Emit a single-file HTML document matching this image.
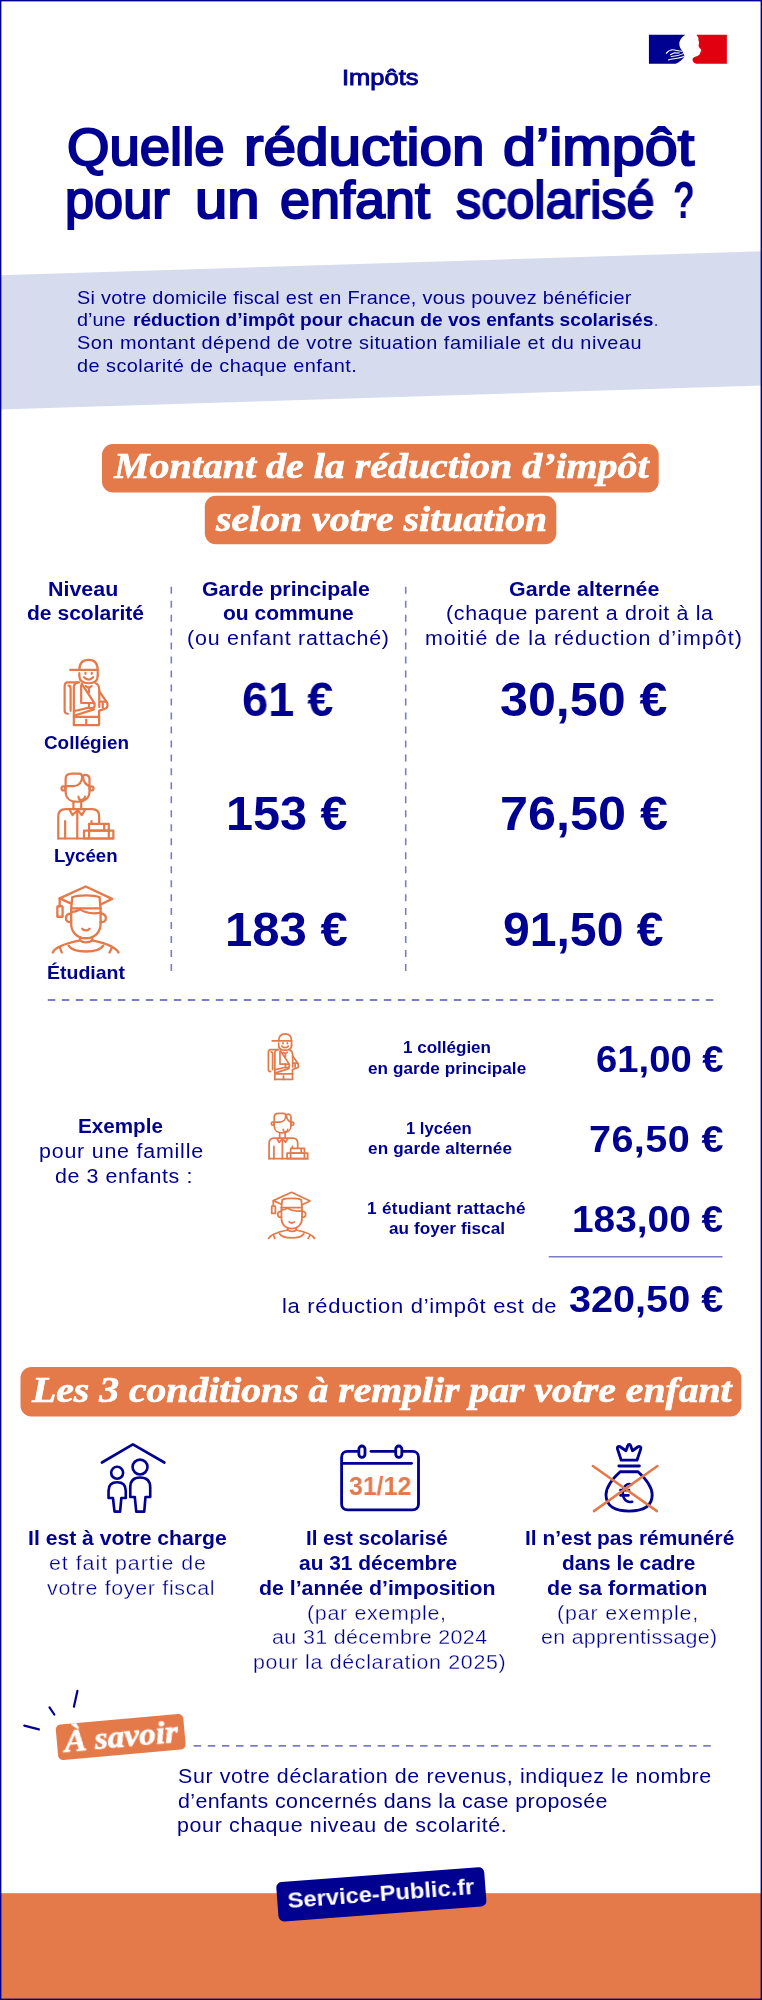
<!DOCTYPE html>
<html lang="fr">
<head>
<meta charset="utf-8">
<title>Quelle réduction d’impôt pour un enfant scolarisé ?</title>
<style>
html,body{margin:0;padding:0;background:#fff}
#pg{position:relative;width:762px;height:2000px;overflow:hidden;background:#fff;font-family:"Liberation Sans",sans-serif;color:#000091}
#gfx{position:absolute;left:0;top:0}
.t{will-change:transform;position:absolute;white-space:nowrap;line-height:1;transform-origin:0 0;font-weight:400;color:#000091}
.b{font-weight:700}
.s{font-family:"Liberation Serif",serif;font-style:italic;-webkit-text-stroke:0.7px #fff}
.tt{-webkit-text-stroke:2px #000091}
.tm{-webkit-text-stroke:0.9px #000091}
.tl{-webkit-text-stroke:0.3px #fff}
.rot{will-change:transform;position:absolute;white-space:nowrap;line-height:1;color:#fff;font-weight:700;text-align:center}
</style>
</head>
<body>
<div id="pg">
<svg id="gfx" width="762" height="2000" viewBox="0 0 762 2000">
<defs>
<!-- collegien icon, drawn in zoom coordinates -->
<symbol id="i-col" overflow="visible">
<g fill="none" stroke="#E4794A" stroke-linecap="round" stroke-linejoin="round">
<path d="M265 195C265 120 300 85 365 85C430 85 465 120 465 195L465 262"/>
<path d="M165 195L465 195"/>
<path d="M265 230L265 262C265 318 310 340 365 340C420 340 465 318 465 262"/>
<path d="M332 226L332 238M400 226L400 238"/>
<path d="M315 275Q365 325 415 275"/>
<path d="M250 330L140 330C112 330 105 345 105 372L105 640C105 664 118 672 140 672"/>
<path d="M147 365C165 365 170 380 170 400L170 640"/>
<path d="M205 795L205 385C205 350 225 332 262 330"/>
<path d="M205 795L480 795L480 640"/>
<path d="M440 340C470 350 482 372 482 410L482 600"/>
<path d="M335 372L368 392L398 372M370 400L370 440"/>
<path d="M290 345L430 560"/>
<path d="M285 362L285 555L370 555"/>
<path d="M370 555L410 555C428 555 432 565 432 580C432 600 425 610 405 612L370 612Z"/>
<path d="M215 642L370 605M215 692L425 625"/>
<path d="M205 707L480 707M340 737L340 795"/>
<path d="M482 430L560 540"/>
<path d="M490 540L545 540C565 540 572 555 572 578C572 602 560 616 540 620L490 636"/>
<path d="M520 556L520 606"/>
</g>
</symbol>
<symbol id="i-lyc" overflow="visible">
<g fill="none" stroke="#E4794A" stroke-linecap="round" stroke-linejoin="round">
<path d="M170 230L170 150C170 112 200 95 240 95L310 95C340 95 350 110 350 130C350 190 310 230 260 230Z"/>
<path d="M360 118C380 100 430 105 430 150L430 230C400 220 365 190 360 130Z"/>
<circle cx="147" cy="255" r="22"/>
<circle cx="452" cy="255" r="22"/>
<path d="M170 235L170 290C170 360 222 400 297 400C372 400 430 360 430 290L430 235"/>
<path d="M310 345C310 375 330 385 350 380C370 375 380 362 380 345"/>
<path d="M255 405L255 480M340 405L340 480"/>
<path d="M90 800L90 560C90 510 120 480 170 480L460 480C510 480 535 510 535 560L535 632"/>
<path d="M90 800L690 800"/>
<path d="M215 490L245 545L290 500M310 500L345 545L380 490"/>
<path d="M297 495L297 800M165 610L165 800M452 610L452 635"/>
<path d="M425 640L640 640L640 715L425 715ZM590 640L590 715"/>
<path d="M370 715L690 715L690 800L370 800ZM425 715L425 800M640 715L640 800"/>
</g>
</symbol>
<symbol id="i-etu" overflow="visible">
<g fill="none" stroke="#E4794A" stroke-linecap="round" stroke-linejoin="round">
<path d="M240 225L130 175L378 62L630 180L515 235"/>
<path d="M240 270L250 165C300 140 460 140 510 165L520 270Z"/>
<path d="M130 175L130 250"/>
<path d="M108 258C108 250 112 250 118 250L148 250C156 250 158 252 158 258L158 350L108 350Z"/>
<path d="M240 305C290 300 310 290 325 275M325 280C370 310 450 325 525 310"/>
<path d="M240 270L240 420C240 500 300 555 378 555C460 555 520 500 520 420L520 270"/>
<path d="M240 320C200 320 190 345 190 365C190 390 210 405 240 400M520 320C560 320 570 345 570 365C570 390 550 405 520 400"/>
<path d="M345 465Q380 495 415 465"/>
<path d="M325 545L325 575C350 600 410 600 440 575L440 545"/>
<path d="M65 690C90 630 200 600 325 575M440 575C560 600 660 630 690 690"/>
<path d="M215 625C260 700 500 700 545 625"/>
<path d="M130 640L150 690M630 640L605 690"/>
</g>
</symbol>
</defs>

<!-- intro band -->
<polygon points="0,275.3 762,251.3 762,385.4 0,409.6" fill="#D6DCEE"/>

<!-- flag -->
<g transform="translate(640,25) scale(0.13123)">
<path d="M68 75L345 75C318 92 298 118 300 150C302 172 312 184 322 198L340 238C322 268 300 282 272 295L68 295Z" fill="#000091"/>
<g fill="none" stroke="#fff" stroke-width="8" stroke-linecap="round">
<path d="M200 216C215 198 240 186 262 190C280 193 296 200 318 200"/>
<path d="M232 226L262 212L300 214"/>
<path d="M238 240C262 240 300 232 330 218"/>
<path d="M216 266C250 256 300 256 336 238"/>
</g>
<path d="M430 75L662 75L662 295L430 295C408 290 396 272 402 255C410 240 440 238 452 226C462 214 458 204 468 192C462 180 448 170 446 158C450 140 452 128 444 112C452 104 440 90 430 75Z" fill="#E1000F"/>
</g>

<!-- section pills -->
<rect x="102" y="444" width="556.7" height="48.4" rx="11" fill="#E4794A"/>
<rect x="204.8" y="495.7" width="351.5" height="48.6" rx="11" fill="#E4794A"/>
<rect x="20.5" y="1367.1" width="720.8" height="49.3" rx="11" fill="#E4794A"/>

<!-- dashed lines -->
<g stroke="#7C7CC6" stroke-width="1.6" fill="none">
<path d="M171.3 586.7V971.4" stroke-dasharray="7 6.974"/>
<path d="M405.7 586.7V971.4" stroke-dasharray="7 6.974"/>
<path d="M47.8 1000H713.5" stroke-dasharray="7.5 6.5" stroke-width="1.8"/>
<path d="M193.6 1745.8H711" stroke-dasharray="7.5 6.657" stroke-width="1.8"/>
<path d="M548.7 1256.7H722.5" stroke-width="1.5"/>
</g>

<!-- level icons (large) -->
<use href="#i-col" stroke-width="24" transform="translate(55,652) scale(0.09186)"/>
<use href="#i-lyc" stroke-width="24" transform="translate(50,765) scale(0.09186)"/>
<use href="#i-etu" stroke-width="22" transform="translate(46,880) scale(0.10499)"/>
<!-- level icons (small) -->
<g transform="translate(268.1,1033.2) scale(0.70) translate(-64.2,-658.9)"><use href="#i-col" stroke-width="27" transform="translate(55,652) scale(0.09186)"/></g>
<g transform="translate(268.4,1112.7) scale(0.70) translate(-57.3,-772.8)"><use href="#i-lyc" stroke-width="27" transform="translate(50,765) scale(0.09186)"/></g>
<g transform="translate(268.2,1191.8) scale(0.70) translate(-52.3,-885.8)"><use href="#i-etu" stroke-width="24" transform="translate(46,880) scale(0.10499)"/></g>

<!-- house + people -->
<g transform="translate(93,1435) scale(0.10499)" fill="none" stroke="#000091" stroke-width="25" stroke-linecap="round" stroke-linejoin="round">
<path d="M85 262L380 90L680 262"/>
<circle cx="230" cy="360" r="57"/>
<path d="M148 600L148 530C148 470 185 450 230 450C275 450 312 470 312 530L312 600L270 600L258 730L205 730L190 600Z"/>
<circle cx="448" cy="305" r="71"/>
<path d="M355 590L355 500C355 430 395 405 448 405C500 405 545 430 545 500L545 590L500 590L488 730L412 730L398 590Z"/>
</g>

<!-- calendar -->
<g transform="translate(335,1435) scale(0.11811)" fill="none" stroke="#000091" stroke-width="24" stroke-linecap="round" stroke-linejoin="round">
<path d="M190 138L106 138C76 138 56 158 56 188L56 584C56 614 76 634 106 634L657 634C687 634 707 614 707 584L707 188C707 158 687 138 657 138L577 138"/>
<path d="M305 138L503 138"/>
<rect x="202" y="93" width="52" height="96" rx="26"/>
<rect x="514" y="93" width="52" height="96" rx="26"/>
<path d="M62 240L648 240"/>
</g>

<!-- money bag -->
<g transform="translate(585,1435) scale(0.10499)" fill="none" stroke="#000091" stroke-width="27" stroke-linecap="round" stroke-linejoin="round">
<path d="M345 240L308 128C305 110 325 105 335 112L390 150L408 100C412 85 430 85 434 100L452 150L505 112C518 104 538 112 532 130L495 240Z"/>
<path d="M322 295L518 295"/>
<path d="M335 350L505 350C560 400 640 480 640 570C640 680 550 725 420 725C290 725 200 680 200 570C200 480 280 400 335 350Z"/>
<path d="M442 472C400 455 360 490 360 550C360 612 400 650 450 635M337 525L420 525M337 575L415 575" stroke-width="24"/>
<path d="M75 295L685 725M690 295L85 725" stroke="#E4794A" stroke-width="24"/>
</g>

<!-- a savoir: sparks + pill -->
<g stroke="#000091" stroke-width="2.2" stroke-linecap="round" fill="none">
<path d="M24.3 1725.6L38.9 1729.4M49.5 1707.4L54.3 1714.5M77.4 1690.9L73.9 1706.7"/>
</g>
<g transform="translate(120.7,1737) rotate(-5.08)"><rect x="-64" y="-17.8" width="128" height="35.6" rx="5" fill="#E4794A"/></g>

<!-- bottom band + badge -->
<rect x="0" y="1893.2" width="762" height="108" fill="#E4794A"/>
<g transform="translate(381.3,1894.3) rotate(-4.33)"><rect x="-104.2" y="-19.7" width="208.5" height="39.4" rx="5.5" fill="#000091"/></g>
</svg>

<header class="entete">
<div class="t tm" style="left:342.09px;top:66.55px;font-size:22.5px;transform:scaleX(1.1322)">Impôts</div>
<div class="t tt" style="left:67.36px;top:122.03px;font-size:51px;transform:scaleX(1.0690)">Quelle</div>
<div class="t tt" style="left:243.86px;top:122.03px;font-size:51px;transform:scaleX(1.1470)">réduction</div>
<div class="t tt" style="left:503.47px;top:122.03px;font-size:51px;transform:scaleX(1.1625)">d’impôt</div>
<div class="t tt" style="left:64.52px;top:175.33px;font-size:51px;transform:scaleX(1.0253)">pour</div>
<div class="t tt" style="left:194.89px;top:175.33px;font-size:51px;transform:scaleX(1.1370)">un</div>
<div class="t tt" style="left:280.28px;top:175.33px;font-size:51px;transform:scaleX(1.0578)">enfant</div>
<div class="t tt" style="left:456.01px;top:175.33px;font-size:51px;transform:scaleX(0.9871)">scolarisé</div>
<div class="t b" style="left:673.21px;top:175.33px;font-size:51px;transform:scaleX(0.6963)">?</div>
</header>
<section class="intro">
<div class="t" style="left:76.80px;top:288.86px;font-size:18.6px;transform:scaleX(1.0700);letter-spacing:0.243px">Si votre domicile fiscal est en France, vous pouvez bénéficier</div>
<div class="t" style="left:76.80px;top:311.46px;font-size:18.6px;transform:scaleX(1.0675)">d’une</div>
<div class="t b" style="left:132.97px;top:311.46px;font-size:18.6px;transform:scaleX(1.0298)">réduction d’impôt pour chacun de vos enfants scolarisés</div>
<div class="t" style="left:654.10px;top:311.46px;font-size:18.6px;transform:scaleX(0.8000)">.</div>
<div class="t" style="left:76.80px;top:334.06px;font-size:18.6px;transform:scaleX(1.0700);letter-spacing:0.481px">Son montant dépend de votre situation familiale et du niveau</div>
<div class="t" style="left:76.80px;top:356.66px;font-size:18.6px;transform:scaleX(1.0700);letter-spacing:0.428px">de scolarité de chaque enfant.</div>
</section>
<section class="montants">
<div class="t b s" style="left:113.76px;top:448.45px;font-size:36px;transform:scaleX(1.1090);color:#fff">Montant de la réduction d’impôt</div>
<div class="t b s" style="left:216.15px;top:500.65px;font-size:36px;transform:scaleX(1.1036);color:#fff">selon votre situation</div>
<div class="t b" style="left:48.23px;top:578.67px;font-size:20px;transform:scaleX(1.0700);letter-spacing:0.018px">Niveau</div>
<div class="t b" style="left:26.80px;top:603.47px;font-size:20px;transform:scaleX(1.0528)">de scolarité</div>
<div class="t b" style="left:201.80px;top:578.67px;font-size:20px;transform:scaleX(1.0634)">Garde principale</div>
<div class="t b" style="left:223.10px;top:603.47px;font-size:20px;transform:scaleX(1.0504)">ou commune</div>
<div class="t" style="left:186.93px;top:628.47px;font-size:20px;transform:scaleX(1.0700);letter-spacing:0.748px">(ou enfant rattaché)</div>
<div class="t b" style="left:508.60px;top:578.67px;font-size:20px;transform:scaleX(1.0700);letter-spacing:0.040px">Garde alternée</div>
<div class="t" style="left:446.13px;top:603.47px;font-size:20px;transform:scaleX(1.0700);letter-spacing:0.618px">(chaque parent a droit à la</div>
<div class="t" style="left:424.93px;top:628.47px;font-size:20px;transform:scaleX(1.0700);letter-spacing:0.975px">moitié de la réduction d’impôt)</div>
<div class="t b" style="left:242.42px;top:675.97px;font-size:48px;transform:scaleX(0.9779)">61 €</div>
<div class="t b" style="left:226.06px;top:789.87px;font-size:48px;transform:scaleX(1.0118)">153 €</div>
<div class="t b" style="left:225.43px;top:906.37px;font-size:48px;transform:scaleX(1.0221)">183 €</div>
<div class="t b" style="left:500.15px;top:675.97px;font-size:48px;transform:scaleX(1.0457)">30,50 €</div>
<div class="t b" style="left:499.70px;top:789.87px;font-size:48px;transform:scaleX(1.0486)">76,50 €</div>
<div class="t b" style="left:503.10px;top:906.37px;font-size:48px;transform:scaleX(1.0022)">91,50 €</div>
<div class="t b" style="left:43.50px;top:734.34px;font-size:18.5px;transform:scaleX(1.0198)">Collégien</div>
<div class="t b" style="left:53.89px;top:846.54px;font-size:18.5px;transform:scaleX(1.0070)">Lycéen</div>
<div class="t b" style="left:46.75px;top:963.64px;font-size:18.5px;transform:scaleX(1.0531)">Étudiant</div>
</section>
<section class="exemple">
<div class="t b" style="left:78.17px;top:1116.47px;font-size:20px;transform:scaleX(1.0315)">Exemple</div>
<div class="t" style="left:38.53px;top:1141.07px;font-size:20px;transform:scaleX(1.0700);letter-spacing:0.737px">pour une famille</div>
<div class="t" style="left:55.20px;top:1166.07px;font-size:20px;transform:scaleX(1.0700);letter-spacing:0.552px">de 3 enfants :</div>
<div class="t b" style="left:402.74px;top:1040.46px;font-size:16px;transform:scaleX(1.0640)">1 collégien</div>
<div class="t b" style="left:368.10px;top:1061.46px;font-size:16px;transform:scaleX(1.0700);letter-spacing:0.063px">en garde principale</div>
<div class="t b" style="left:406.16px;top:1121.06px;font-size:16px;transform:scaleX(1.0394)">1 lycéen</div>
<div class="t b" style="left:368.10px;top:1141.46px;font-size:16px;transform:scaleX(1.0700);letter-spacing:0.129px">en garde alternée</div>
<div class="t b" style="left:367.03px;top:1200.86px;font-size:16px;transform:scaleX(1.0700);letter-spacing:0.324px">1 étudiant rattaché</div>
<div class="t b" style="left:389.10px;top:1221.26px;font-size:16px;transform:scaleX(1.0700);letter-spacing:0.056px">au foyer fiscal</div>
<div class="t b" style="left:595.57px;top:1041.18px;font-size:37px;transform:scaleX(1.0331)">61,00 €</div>
<div class="t b" style="left:588.63px;top:1121.08px;font-size:37px;transform:scaleX(1.0700);letter-spacing:0.374px">76,50 €</div>
<div class="t b" style="left:572.00px;top:1201.18px;font-size:37px;transform:scaleX(1.0492)">183,00 €</div>
<div class="t b" style="left:568.90px;top:1281.18px;font-size:37px;transform:scaleX(1.0700);letter-spacing:0.015px">320,50 €</div>
<div class="t" style="left:282.03px;top:1296.05px;font-size:20.5px;transform:scaleX(1.0700);letter-spacing:0.663px">la réduction d’impôt est de</div>
</section>
<section class="conditions">
<div class="t b s" style="left:31.78px;top:1372.99px;font-size:35px;transform:scaleX(1.1331);color:#fff">Les 3 conditions à remplir par votre enfant</div>
<div class="t b" style="left:27.94px;top:1527.87px;font-size:20px;transform:scaleX(1.0576)">Il est à votre charge</div>
<div class="t tl" style="left:49.25px;top:1552.87px;font-size:20px;transform:scaleX(1.0700);letter-spacing:0.898px">et fait partie de</div>
<div class="t tl" style="left:46.55px;top:1577.77px;font-size:20px;transform:scaleX(1.0700);letter-spacing:0.642px">votre foyer fiscal</div>
<div class="t b" style="left:306.17px;top:1527.87px;font-size:20px;transform:scaleX(1.0268)">Il est scolarisé</div>
<div class="t b" style="left:298.80px;top:1552.87px;font-size:20px;transform:scaleX(1.0459)">au 31 décembre</div>
<div class="t b" style="left:259.10px;top:1577.77px;font-size:20px;transform:scaleX(1.0641)">de l’année d’imposition</div>
<div class="t tl" style="left:306.78px;top:1602.67px;font-size:20px;transform:scaleX(1.0700);letter-spacing:0.631px">(par exemple,</div>
<div class="t tl" style="left:272.15px;top:1627.47px;font-size:20px;transform:scaleX(1.0700);letter-spacing:0.354px">au 31 décembre 2024</div>
<div class="t tl" style="left:253.48px;top:1652.37px;font-size:20px;transform:scaleX(1.0700);letter-spacing:0.620px">pour la déclaration 2025)</div>
<div class="t b" style="left:524.55px;top:1527.87px;font-size:20px;transform:scaleX(1.0460)">Il n’est pas rémunéré</div>
<div class="t b" style="left:562.10px;top:1552.87px;font-size:20px;transform:scaleX(1.0421)">dans le cadre</div>
<div class="t b" style="left:546.70px;top:1577.77px;font-size:20px;transform:scaleX(1.0700);letter-spacing:0.064px">de sa formation</div>
<div class="t tl" style="left:556.78px;top:1602.67px;font-size:20px;transform:scaleX(1.0700);letter-spacing:0.810px">(par exemple,</div>
<div class="t tl" style="left:541.45px;top:1627.47px;font-size:20px;transform:scaleX(1.0700);letter-spacing:0.280px">en apprentissage)</div>
</section>
<aside class="a-savoir">
<div class="t" style="left:178.00px;top:1765.97px;font-size:20px;transform:scaleX(1.0700);letter-spacing:0.570px">Sur votre déclaration de revenus, indiquez le nombre</div>
<div class="t" style="left:178.00px;top:1790.57px;font-size:20px;transform:scaleX(1.0700);letter-spacing:0.388px">d’enfants concernés dans la case proposée</div>
<div class="t" style="left:176.93px;top:1814.87px;font-size:20px;transform:scaleX(1.0700);letter-spacing:0.616px">pour chaque niveau de scolarité.</div>
</aside>

<div class="rot s" style="left:20.7px;top:1721.4px;width:200px;font-size:31px;transform:rotate(-5.08deg) scaleX(1.075)">À savoir</div>
<div class="rot" style="left:231.3px;top:1883.3px;width:300px;font-size:22px;transform:rotate(-4.33deg) scaleX(1.077)">Service-Public.fr</div>
<div class="t b" style="left:348.8px;top:1473.8px;font-size:25.5px;color:#E4794A;transform:scaleX(0.975)">31/12</div>
<svg style="position:absolute;left:0;top:0" width="762" height="2000" viewBox="0 0 762 2000"><rect x="0.7" y="0.7" width="760.6" height="1998.6" fill="none" stroke="#000091" stroke-width="1.4"/></svg>
</div>
</body>
</html>
